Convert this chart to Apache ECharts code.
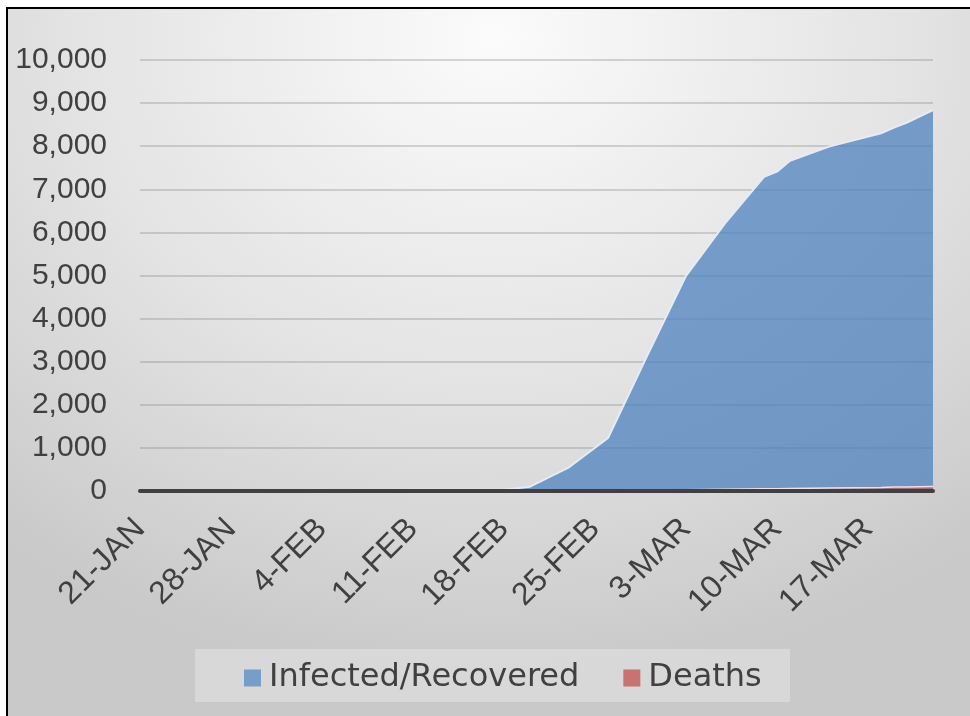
<!DOCTYPE html>
<html>
<head>
<meta charset="utf-8">
<script src="https://cdn.jsdelivr.net/npm/echarts@6/dist/echarts.min.js"></script>
<style>
  html, body { margin: 0; padding: 0; background: #ffffff; }
  #frame {
    position: absolute; left: 6px; top: 7px; width: 970px; height: 716px;
    border-left: 2px solid #000; border-top: 2px solid #000;
    background: radial-gradient(ellipse 80% 90% at 50% 4%, #fbfbfb 0%, #e3e3e3 55%, #c9c9c9 100%);
  }
  #chart { position: absolute; left: 0; top: 0; width: 970px; height: 716px; }
</style>
</head>
<body>
<div id="frame"></div>
<div id="chart"></div>
<script>
// Category labels (one per day)
const days = [
  '21-JAN','22-JAN','23-JAN','24-JAN','25-JAN','26-JAN','27-JAN','28-JAN','29-JAN','30-JAN','31-JAN',
  '1-FEB','2-FEB','3-FEB','4-FEB','5-FEB','6-FEB','7-FEB','8-FEB','9-FEB','10-FEB','11-FEB','12-FEB',
  '13-FEB','14-FEB','15-FEB','16-FEB','17-FEB','18-FEB','19-FEB','20-FEB','21-FEB','22-FEB','23-FEB',
  '24-FEB','25-FEB','26-FEB','27-FEB','28-FEB','29-FEB',
  '1-MAR','2-MAR','3-MAR','4-MAR','5-MAR','6-MAR','7-MAR','8-MAR','9-MAR','10-MAR','11-MAR',
  '12-MAR','13-MAR','14-MAR','15-MAR','16-MAR','17-MAR','18-MAR','19-MAR','20-MAR','21-MAR','22-MAR'
];
// Dates with reported values
const reportDates = ['21-JAN','4-FEB','18-FEB','20-FEB','23-FEB','26-FEB','29-FEB','3-MAR','6-MAR',
  '9-MAR','10-MAR','11-MAR','14-MAR','18-MAR','19-MAR','20-MAR','22-MAR'];
const infectedRecovered = [1, 16, 30, 100, 550, 1230, 3130, 4990, 6210,
  7290, 7410, 7660, 7990, 8300, 8430, 8550, 8840];
const deaths = [0, 0, 0, 1, 5, 12, 17, 28, 42,
  51, 54, 60, 72, 84, 91, 94, 104];
const yTicks = { min: 0, max: 10000, interval: 1000 };

function toSeries(vals) {
  const out = days.map(() => null);
  reportDates.forEach((d, i) => { out[days.indexOf(d)] = vals[i]; });
  return out;
}

const chart = echarts.init(document.getElementById('chart'), null, { renderer: 'canvas' });
const axisFont = '"Liberation Sans", Arial, sans-serif';
chart.setOption({
  backgroundColor: 'transparent',
  animation: false,
  grid: { left: 140, right: 37, top: 60, bottom: 225, containLabel: false },
  graphic: [{
    type: 'rect', z: -10, silent: true,
    shape: { x: 195, y: 649, width: 595, height: 53 },
    style: { fill: 'rgba(255,255,255,0.28)' }
  }],
  legend: {
    left: 239, top: 657,
    itemWidth: 17, itemHeight: 17, itemGap: 44,
    icon: 'rect',
    textStyle: { fontFamily: '"DejaVu Sans", sans-serif', fontSize: 32, color: '#404040', padding: [0, 0, 0, 3] },
    data: [
      { name: 'Infected/Recovered', itemStyle: { color: '#779dc9' } },
      { name: 'Deaths', itemStyle: { color: '#c97370' } }
    ]
  },
  xAxis: {
    type: 'category',
    data: days,
    boundaryGap: false,
    z: 5,
    axisLine: { show: true, lineStyle: { color: '#404040', width: 4 } },
    axisTick: { show: false },
    splitLine: { show: false },
    axisLabel: {
      interval: 6, rotate: 45, margin: 33,
      fontFamily: axisFont, fontSize: 32, color: '#404040'
    }
  },
  yAxis: {
    type: 'value',
    min: yTicks.min, max: yTicks.max, interval: yTicks.interval,
    axisLine: { show: false },
    axisTick: { show: false },
    splitLine: { show: true, lineStyle: { color: 'rgba(130,130,130,0.42)', width: 1.5 } },
    axisLabel: { margin: 33, fontFamily: axisFont, fontSize: 30, color: '#404040' }
  },
  series: [
    {
      name: 'Infected/Recovered', type: 'line',
      data: toSeries(infectedRecovered),
      connectNulls: true, smooth: false, showSymbol: false, symbol: 'none',
      lineStyle: { color: '#e4ecf6', width: 2 },
      itemStyle: { color: '#779dc9' },
      areaStyle: { color: 'rgba(79,129,189,0.75)', opacity: 1 }
    },
    {
      name: 'Deaths', type: 'line',
      data: toSeries(deaths),
      connectNulls: true, smooth: false, showSymbol: false, symbol: 'none',
      lineStyle: { color: '#f4e2e1', width: 1.5 },
      itemStyle: { color: '#c97370' },
      areaStyle: { color: 'rgba(192,80,77,0.6)', opacity: 1 }
    }
  ]
});
</script>
</body>
</html>
